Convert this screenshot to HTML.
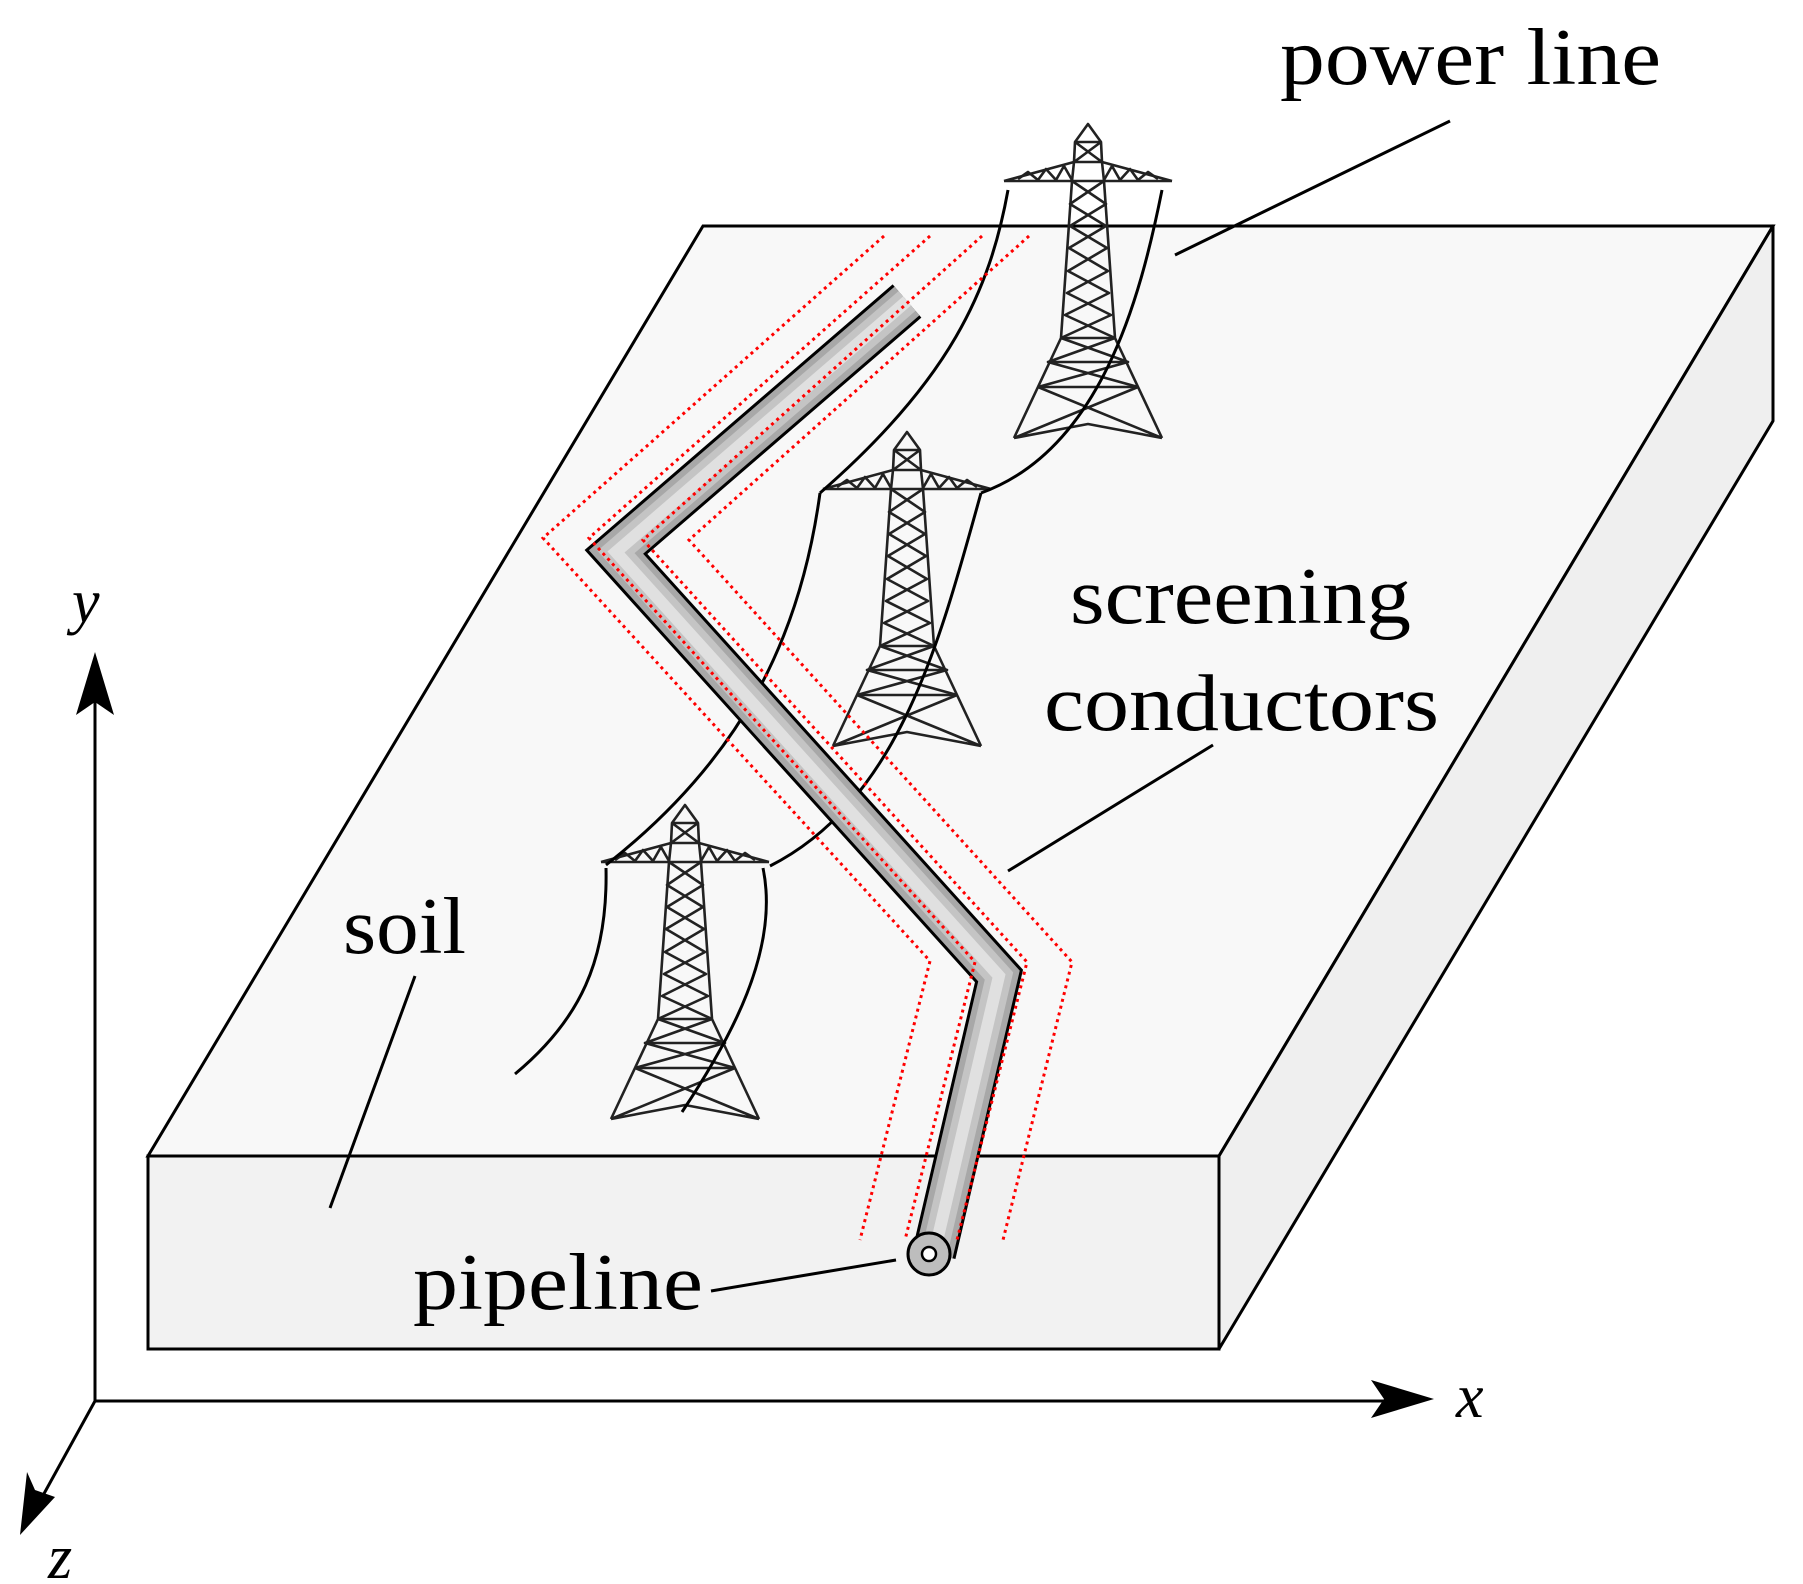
<!DOCTYPE html>
<html><head><meta charset="utf-8"><style>
html,body{margin:0;padding:0;background:#fff}
svg{display:block}
text{font-family:"Liberation Serif",serif;fill:#000}
</style></head><body>
<svg width="1803" height="1584" viewBox="0 0 1803 1584" xmlns="http://www.w3.org/2000/svg">
<defs>
<g id="tw" fill="none" stroke="#222" stroke-width="2.6" stroke-linejoin="round">
  <path d="M-16,57 L-14,38 L-13,18 L0,0 L13,18 L14,38 L16,57"/>
  <path d="M-13,18 L13,18 M-13,18 L14,38 M13,18 L-14,38 M-14,38 L14,38"/>
  <path d="M-84,57 L84,57 M-84,57 L-14,38 M84,57 L14,38"/>
  <path d="M-70,55 L-60,48 L-50,56 L-42,45 L-32,56 L-24,42 L-16,56 M70,55 L60,48 L50,56 L42,45 L32,56 L24,42 L16,56"/>
  <path d="M-16,57 L-27,214 L-74,314 M16,57 L27,214 L74,314"/>
  <path d="M-16,57 L18,80 L-18,102 L19,124 L-20,147 L21,169 L-23,191 L27,214 M16,57 L-18,80 L18,102 L-19,124 L20,147 L-21,169 L23,191 L-27,214"/>
  <path d="M-27,214 L27,214 M-50,263 L50,263"/>
  <path d="M-27,214 L40,238 L-50,263 M27,214 L-40,238 L50,263 M-40,238 L40,238"/>
  <path d="M-50,263 L74,314 M50,263 L-74,314 M-74,314 L0,300 L74,314"/>
</g>
</defs>

<polygon points="703,226 1773,226 1219,1156 148,1156" fill="#f8f8f8" stroke="#000" stroke-width="3"/>
<polygon points="1773,226 1773,421 1219,1349 1219,1156" fill="#efefef" stroke="#000" stroke-width="3" stroke-linejoin="round"/>
<rect x="148" y="1156" width="1071" height="193" fill="#f2f2f2" stroke="#000" stroke-width="3"/>

<g stroke="#000" stroke-width="3" fill="none">
  <path d="M95,1401 L95,680"/>
  <path d="M95,1401 L1400,1401"/>
  <path d="M95,1401 L35,1510"/>
</g>
<path d="M95,652 L76,715 L95,702 L114,715 Z" fill="#000"/>
<path d="M1434,1399 L1371,1380 L1384,1399 L1371,1418 Z" fill="#000"/>
<path d="M20,1535 L27,1472 L35,1490 L55,1497 Z" fill="#000"/>
<text x="72" y="622" font-size="62" font-style="italic">y</text>
<text x="1456" y="1417" font-size="62" font-style="italic">x</text>
<text x="48" y="1578" font-size="62" font-style="italic">z</text>

<use href="#tw" transform="translate(1088,124)"/>
<use href="#tw" transform="translate(907,432)"/>
<use href="#tw" transform="translate(685,805)"/>

<g stroke="#000" stroke-width="3" fill="none">
  <path d="M1008,190 C990,290 950,380 820,493"/>
  <path d="M1162,190 C1140,300 1100,450 981,493"/>
  <path d="M820,493 C800,640 740,760 606,865"/>
  <path d="M981,493 C940,640 900,800 770,866"/>
  <path d="M606,868 C608,960 580,1020 515,1074"/>
  <path d="M763,868 C780,950 730,1040 682,1112"/>
</g>

<g fill="none" stroke-linejoin="miter" stroke-linecap="butt">
  <path d="M907,301 L616,552 L999,976 L934,1254" stroke="#000" stroke-width="44"/>
  <path d="M907,301 L616,552 L999,976 L934,1254" stroke="#a8a8a8" stroke-width="38"/>
  <path d="M907,301 L616,552 L999,976 L934,1254" stroke="#c4c4c4" stroke-width="26"/>
  <path d="M907,301 L616,552 L999,976 L934,1254" stroke="#e0e0e0" stroke-width="12"/>
</g>
<circle cx="929" cy="1254" r="21" fill="#bdbdbd" stroke="#000" stroke-width="3"/>
<circle cx="929" cy="1254" r="7" fill="#fff" stroke="#000" stroke-width="2.5"/>

<g fill="none" stroke="#f00" stroke-width="3" stroke-dasharray="3,4">
  <path d="M884,236 L543,538 L930,961 L860,1240"/>
  <path d="M930,236 L589,538 L975,962 L905,1240"/>
  <path d="M982,236 L643,540 L1027,962 L957,1240"/>
  <path d="M1029,236 L689,540 L1072,962 L1003,1240"/>
</g>

<g stroke="#000" stroke-width="3" fill="none">
  <path d="M1450,121 L1175,255"/>
  <path d="M1213,745 L1008,871"/>
  <path d="M415,976 L330,1208"/>
  <path d="M711,1291 L896,1260"/>
</g>

<text x="1280" y="84" font-size="80" textLength="381" lengthAdjust="spacingAndGlyphs">power line</text>
<text x="1070" y="623" font-size="80" textLength="341" lengthAdjust="spacingAndGlyphs">screening</text>
<text x="1044" y="730" font-size="80" textLength="395" lengthAdjust="spacingAndGlyphs">conductors</text>
<text x="343" y="953" font-size="80" textLength="123" lengthAdjust="spacingAndGlyphs">soil</text>
<text x="413" y="1309" font-size="80" textLength="290" lengthAdjust="spacingAndGlyphs">pipeline</text>
</svg>
</body></html>
